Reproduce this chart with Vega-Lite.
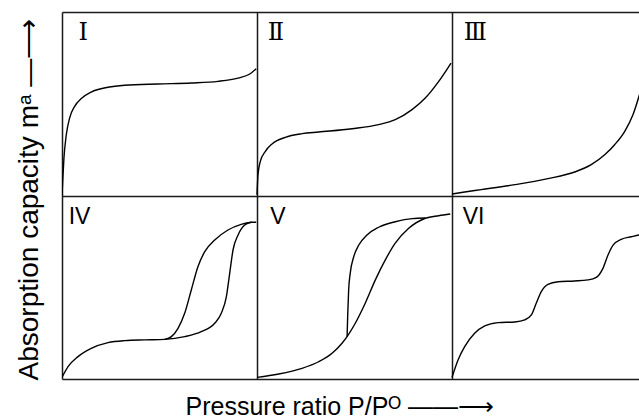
{
  "$schema": "https://vega.github.io/schema/vega-lite/v6.json",
  "width": 577,
  "height": 367,
  "autosize": {"type": "none"},
  "padding": {"left": 62, "top": 12, "right": 0, "bottom": 39},
  "background": "white",
  "config": {"view": {"stroke": null}, "font": "Liberation Sans"},
  "datasets": {
    "curves": [
      {"curve": "I", "x": 0.0, "y": 1.0},
      {"curve": "I", "x": 0.0035, "y": 1.077},
      {"curve": "I", "x": 0.010, "y": 1.204},
      {"curve": "I", "x": 0.022, "y": 1.331},
      {"curve": "I", "x": 0.039, "y": 1.422},
      {"curve": "I", "x": 0.065, "y": 1.486},
      {"curve": "I", "x": 0.099, "y": 1.528},
      {"curve": "I", "x": 0.150, "y": 1.564},
      {"curve": "I", "x": 0.236, "y": 1.590},
      {"curve": "I", "x": 0.322, "y": 1.601},
      {"curve": "I", "x": 0.492, "y": 1.608},
      {"curve": "I", "x": 0.663, "y": 1.613},
      {"curve": "I", "x": 0.800, "y": 1.622},
      {"curve": "I", "x": 0.903, "y": 1.640},
      {"curve": "I", "x": 0.963, "y": 1.662},
      {"curve": "I", "x": 0.996, "y": 1.691},
      {"curve": "II", "x": 1.0, "y": 1.004},
      {"curve": "II", "x": 1.005, "y": 1.113},
      {"curve": "II", "x": 1.017, "y": 1.186},
      {"curve": "II", "x": 1.043, "y": 1.241},
      {"curve": "II", "x": 1.077, "y": 1.281},
      {"curve": "II", "x": 1.145, "y": 1.317},
      {"curve": "II", "x": 1.231, "y": 1.337},
      {"curve": "II", "x": 1.316, "y": 1.346},
      {"curve": "II", "x": 1.487, "y": 1.364},
      {"curve": "II", "x": 1.624, "y": 1.386},
      {"curve": "II", "x": 1.709, "y": 1.413},
      {"curve": "II", "x": 1.795, "y": 1.468},
      {"curve": "II", "x": 1.863, "y": 1.531},
      {"curve": "II", "x": 1.932, "y": 1.622},
      {"curve": "II", "x": 1.995, "y": 1.722},
      {"curve": "III", "x": 2.0, "y": 1.008},
      {"curve": "III", "x": 2.065, "y": 1.019},
      {"curve": "III", "x": 2.150, "y": 1.032},
      {"curve": "III", "x": 2.322, "y": 1.059},
      {"curve": "III", "x": 2.492, "y": 1.092},
      {"curve": "III", "x": 2.629, "y": 1.128},
      {"curve": "III", "x": 2.714, "y": 1.168},
      {"curve": "III", "x": 2.783, "y": 1.222},
      {"curve": "III", "x": 2.834, "y": 1.277},
      {"curve": "III", "x": 2.886, "y": 1.350},
      {"curve": "III", "x": 2.928, "y": 1.440},
      {"curve": "III", "x": 2.959, "y": 1.541},
      {"curve": "III", "x": 2.990, "y": 1.657},
      {"curve": "IV-ads", "x": 0.0, "y": 0.009},
      {"curve": "IV-ads", "x": 0.031, "y": 0.067},
      {"curve": "IV-ads", "x": 0.082, "y": 0.122},
      {"curve": "IV-ads", "x": 0.150, "y": 0.167},
      {"curve": "IV-ads", "x": 0.236, "y": 0.198},
      {"curve": "IV-ads", "x": 0.322, "y": 0.209},
      {"curve": "IV-ads", "x": 0.424, "y": 0.213},
      {"curve": "IV-ads", "x": 0.527, "y": 0.216},
      {"curve": "IV-ads", "x": 0.629, "y": 0.231},
      {"curve": "IV-ads", "x": 0.714, "y": 0.258},
      {"curve": "IV-ads", "x": 0.783, "y": 0.304},
      {"curve": "IV-ads", "x": 0.817, "y": 0.358},
      {"curve": "IV-ads", "x": 0.843, "y": 0.449},
      {"curve": "IV-ads", "x": 0.860, "y": 0.576},
      {"curve": "IV-ads", "x": 0.877, "y": 0.703},
      {"curve": "IV-ads", "x": 0.903, "y": 0.785},
      {"curve": "IV-ads", "x": 0.937, "y": 0.839},
      {"curve": "IV-ads", "x": 0.971, "y": 0.854},
      {"curve": "IV-ads", "x": 0.996, "y": 0.854},
      {"curve": "IV-des", "x": 0.527, "y": 0.216},
      {"curve": "IV-des", "x": 0.561, "y": 0.231},
      {"curve": "IV-des", "x": 0.595, "y": 0.276},
      {"curve": "IV-des", "x": 0.629, "y": 0.358},
      {"curve": "IV-des", "x": 0.663, "y": 0.485},
      {"curve": "IV-des", "x": 0.697, "y": 0.612},
      {"curve": "IV-des", "x": 0.732, "y": 0.694},
      {"curve": "IV-des", "x": 0.783, "y": 0.757},
      {"curve": "IV-des", "x": 0.851, "y": 0.812},
      {"curve": "IV-des", "x": 0.919, "y": 0.843},
      {"curve": "IV-des", "x": 0.971, "y": 0.854},
      {"curve": "V-ads", "x": 1.0, "y": 0.009},
      {"curve": "V-ads", "x": 1.111, "y": 0.027},
      {"curve": "V-ads", "x": 1.231, "y": 0.058},
      {"curve": "V-ads", "x": 1.316, "y": 0.094},
      {"curve": "V-ads", "x": 1.385, "y": 0.140},
      {"curve": "V-ads", "x": 1.436, "y": 0.195},
      {"curve": "V-ads", "x": 1.462, "y": 0.231},
      {"curve": "V-ads", "x": 1.504, "y": 0.304},
      {"curve": "V-ads", "x": 1.555, "y": 0.413},
      {"curve": "V-ads", "x": 1.607, "y": 0.540},
      {"curve": "V-ads", "x": 1.658, "y": 0.649},
      {"curve": "V-ads", "x": 1.709, "y": 0.740},
      {"curve": "V-ads", "x": 1.778, "y": 0.821},
      {"curve": "V-ads", "x": 1.863, "y": 0.876},
      {"curve": "V-ads", "x": 1.932, "y": 0.890},
      {"curve": "V-ads", "x": 1.991, "y": 0.899},
      {"curve": "V-des", "x": 1.462, "y": 0.231},
      {"curve": "V-des", "x": 1.465, "y": 0.340},
      {"curve": "V-des", "x": 1.470, "y": 0.485},
      {"curve": "V-des", "x": 1.478, "y": 0.576},
      {"curve": "V-des", "x": 1.496, "y": 0.666},
      {"curve": "V-des", "x": 1.522, "y": 0.730},
      {"curve": "V-des", "x": 1.564, "y": 0.785},
      {"curve": "V-des", "x": 1.624, "y": 0.827},
      {"curve": "V-des", "x": 1.709, "y": 0.857},
      {"curve": "V-des", "x": 1.795, "y": 0.874},
      {"curve": "V-des", "x": 1.863, "y": 0.877},
      {"curve": "VI", "x": 2.0, "y": 0.009},
      {"curve": "VI", "x": 2.031, "y": 0.104},
      {"curve": "VI", "x": 2.065, "y": 0.176},
      {"curve": "VI", "x": 2.116, "y": 0.249},
      {"curve": "VI", "x": 2.168, "y": 0.289},
      {"curve": "VI", "x": 2.236, "y": 0.307},
      {"curve": "VI", "x": 2.322, "y": 0.311},
      {"curve": "VI", "x": 2.373, "y": 0.322},
      {"curve": "VI", "x": 2.407, "y": 0.349},
      {"curve": "VI", "x": 2.432, "y": 0.413},
      {"curve": "VI", "x": 2.458, "y": 0.476},
      {"curve": "VI", "x": 2.492, "y": 0.516},
      {"curve": "VI", "x": 2.544, "y": 0.530},
      {"curve": "VI", "x": 2.629, "y": 0.534},
      {"curve": "VI", "x": 2.697, "y": 0.540},
      {"curve": "VI", "x": 2.740, "y": 0.554},
      {"curve": "VI", "x": 2.774, "y": 0.603},
      {"curve": "VI", "x": 2.800, "y": 0.676},
      {"curve": "VI", "x": 2.826, "y": 0.730},
      {"curve": "VI", "x": 2.868, "y": 0.761},
      {"curve": "VI", "x": 2.919, "y": 0.775},
      {"curve": "VI", "x": 2.959, "y": 0.785},
      {"curve": "VI", "x": 2.990, "y": 0.790}
    ],
    "labels": [
      {"label": "Ⅰ", "style": "serif", "x": 0.085, "y": 1.845},
      {"label": "Ⅱ", "style": "serif", "x": 1.055, "y": 1.845},
      {"label": "Ⅲ", "style": "serif", "x": 2.06, "y": 1.845},
      {"label": "IV", "style": "sans", "x": 0.034, "y": 0.847},
      {"label": "V", "style": "sans", "x": 1.068, "y": 0.847},
      {"label": "VI", "style": "sans", "x": 2.055, "y": 0.847}
    ]
  },
  "layer": [
    {
      "data": {"name": "curves"},
      "mark": {"type": "line", "interpolate": "monotone", "color": "black", "strokeWidth": 1.4, "clip": true},
      "encoding": {
        "x": {
          "field": "x", "type": "quantitative",
          "scale": {"domain": [0, 2.959], "nice": false, "zero": false},
          "axis": {
            "values": [0, 1, 2], "grid": true, "gridColor": "#1a1a1a", "gridWidth": 1.5, "gridOpacity": 1,
            "ticks": false, "labels": false, "domain": false,
            "title": "Pressure ratio P/Pᴼ ——⟶",
            "titleFont": "Liberation Sans", "titleFontSize": 25, "titleFontWeight": "normal", "titleColor": "black",
            "titleAlign": "left", "titleAnchor": "start", "titleBaseline": "alphabetic",
            "titleX": 123, "titleY": 35
          }
        },
        "y": {
          "field": "y", "type": "quantitative",
          "scale": {"domain": [0, 2], "nice": false, "zero": false},
          "axis": {
            "values": [0, 1, 2], "grid": true, "gridColor": "#1a1a1a", "gridWidth": 1.5, "gridOpacity": 1,
            "ticks": false, "labels": false, "domain": false,
            "title": "Absorption capacity mᵃ —⟶",
            "titleFont": "Liberation Sans", "titleFontSize": 28, "titleFontWeight": "normal", "titleColor": "black",
            "titleAngle": -90, "titleAlign": "left", "titleAnchor": "start", "titleBaseline": "alphabetic",
            "titleX": -25, "titleY": 368
          }
        },
        "detail": {"field": "curve"}
      }
    },
    {
      "data": {"name": "labels"},
      "transform": [{"filter": "datum.style == 'serif'"}],
      "mark": {"type": "text", "font": "DejaVu Serif", "fontSize": 24, "align": "left", "baseline": "alphabetic", "color": "black"},
      "encoding": {
        "x": {"field": "x", "type": "quantitative"},
        "y": {"field": "y", "type": "quantitative"},
        "text": {"field": "label"}
      }
    },
    {
      "data": {"name": "labels"},
      "transform": [{"filter": "datum.style == 'sans'"}],
      "mark": {"type": "text", "font": "Liberation Sans", "fontSize": 23, "align": "left", "baseline": "alphabetic", "color": "black"},
      "encoding": {
        "x": {"field": "x", "type": "quantitative"},
        "y": {"field": "y", "type": "quantitative"},
        "text": {"field": "label"}
      }
    }
  ]
}
